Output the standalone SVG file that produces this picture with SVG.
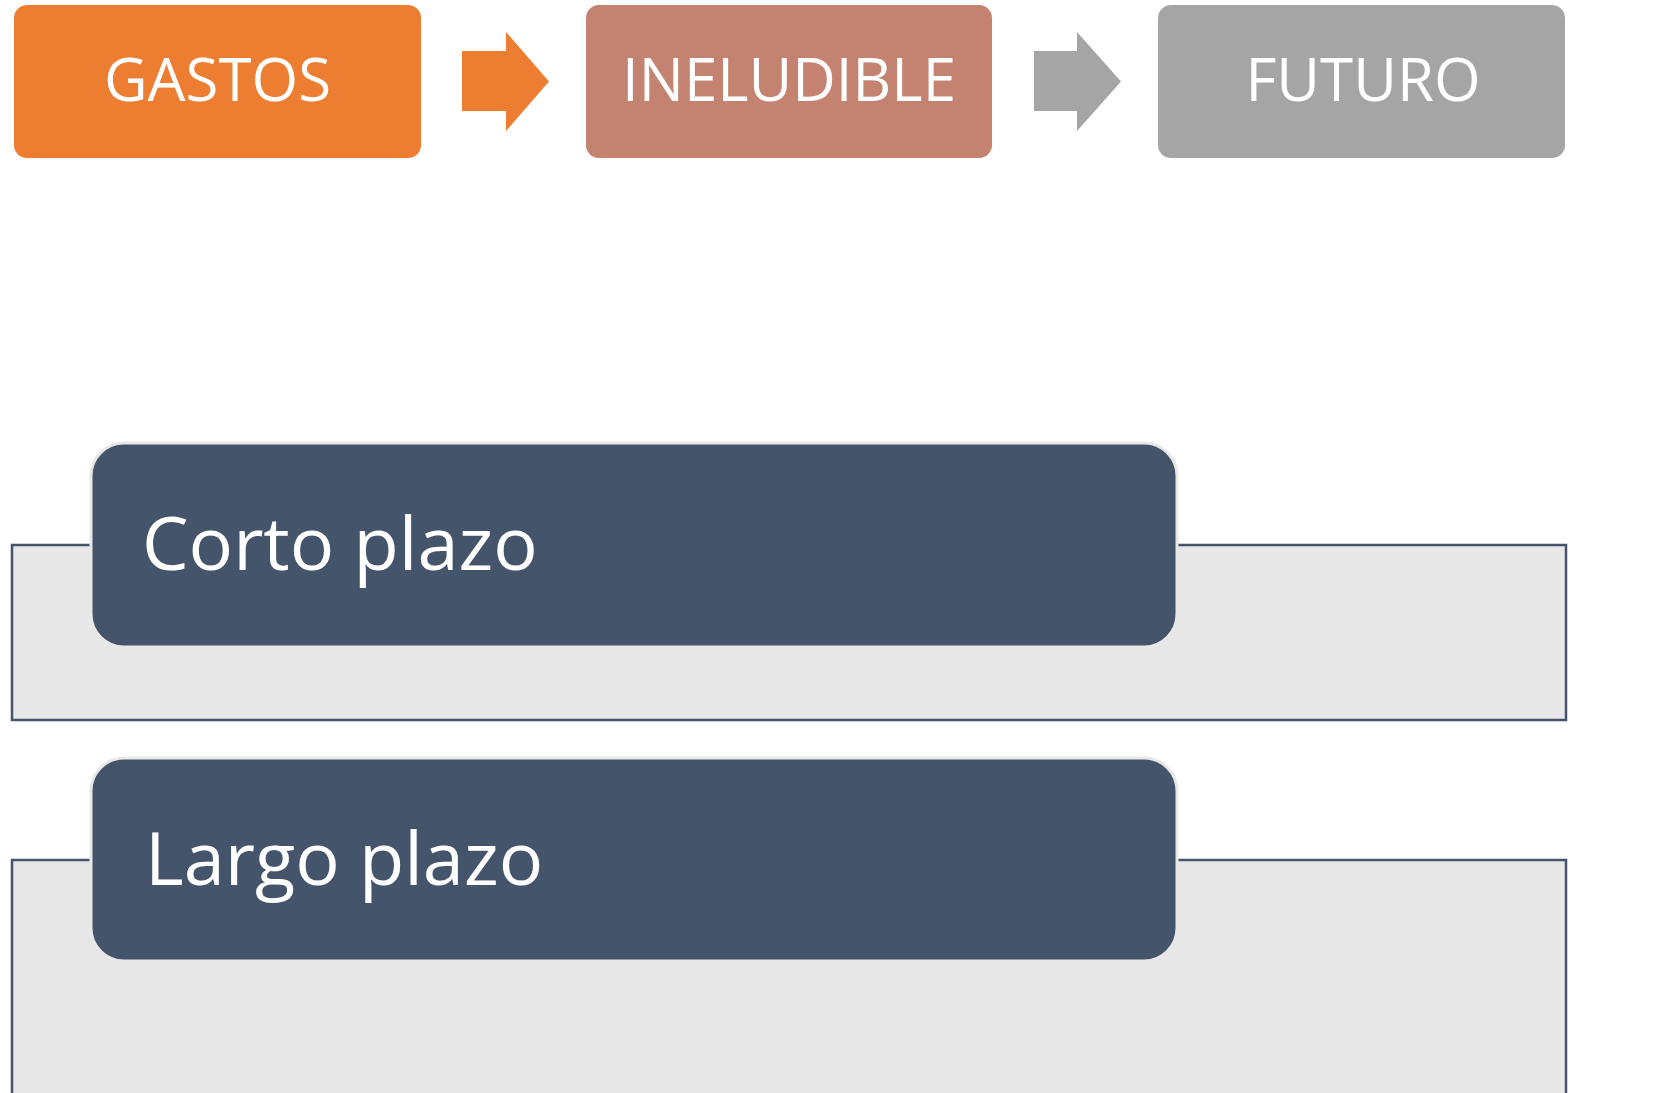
<svg xmlns="http://www.w3.org/2000/svg" width="1660" height="1093" viewBox="0 0 1660 1093">
<style>
.top{font-family:"Open Sans","Noto Sans",sans-serif;font-size:60px;fill:#fff;text-anchor:middle}
.big{font-family:"Open Sans","Noto Sans",sans-serif;font-size:74px;fill:#fff}
.panel{fill:#E7E7E7;stroke:#44546A;stroke-width:2.5}
.dark{fill:#44546A;stroke:#E8E8E8;stroke-width:3}
</style>
<rect width="1660" height="1093" fill="#fff"/>
<g id="gastos">
<rect x="14" y="5" width="407" height="153" rx="13" fill="#ED7D31"/>
<text class="top" x="217.5" y="101">GASTOS</text>
</g>
<g id="ineludible">
<rect x="586" y="5" width="406" height="153" rx="13" fill="#C48270"/>
<text class="top" x="789" y="101">INELUDIBLE</text>
</g>
<g id="futuro">
<rect x="1158" y="5" width="407" height="153" rx="13" fill="#A5A5A5"/>
<text class="top" x="1363" y="101">FUTURO</text>
</g>
<g id="connectors">
<polygon points="462,51 506,51 506,32 549,81.5 506,131 506,111 462,111" fill="#ED7D31"/>
<polygon points="1034,51 1077,51 1077,32 1121,81.5 1077,131 1077,111 1034,111" fill="#A5A5A5"/>
</g>
<g id="corto">
<rect class="panel" x="12" y="545" width="1554" height="175"/>
<rect class="dark" x="91" y="443" width="1086" height="204" rx="33"/>
<text class="big" x="142" y="570">Corto plazo</text>
</g>
<g id="largo">
<rect class="panel" x="12" y="860" width="1554" height="260"/>
<rect class="dark" x="91" y="758" width="1086" height="203" rx="33"/>
<text class="big" x="145" y="885">Largo plazo</text>
</g>
</svg>
